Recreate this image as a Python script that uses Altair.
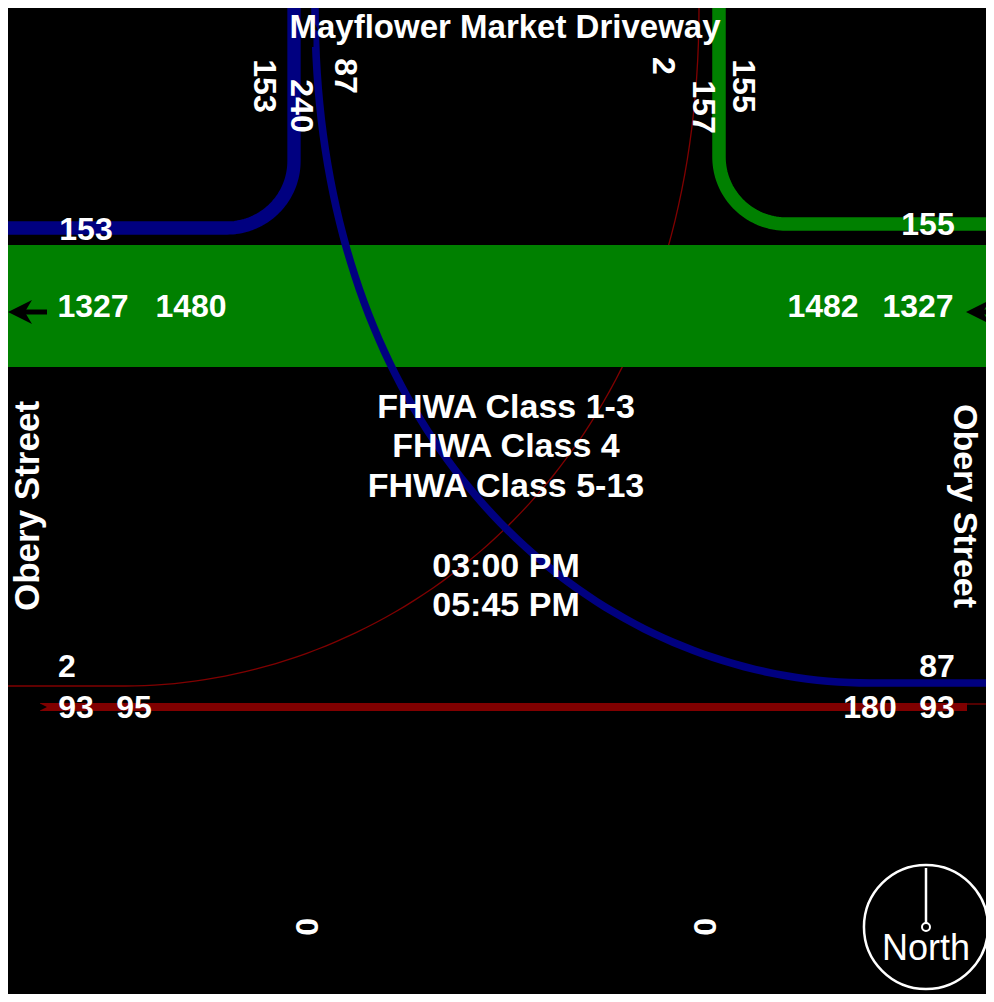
import altair as alt
import pandas as pd
import numpy as np

# ---------------- values ----------------
street_ns = "Mayflower Market Driveway"
street_ew = "Obery Street"
class_lines = ["FHWA Class 1-3", "FHWA Class 4", "FHWA Class 5-13"]
time_lines = ["03:00 PM", "05:45 PM"]

north_left_labels = [153, 240, 87]
north_right_labels = [2, 157, 155]
west_upper_label = [153]
east_upper_label = [155]
band_west_labels = [1327, 1480]
band_east_labels = [1482, 1327]
west_lower_top = [2]
west_lower_labels = [93, 95]
east_lower_top = [87]
east_lower_labels = [180, 93]
south_labels = [0, 0]

# flows: name, volume, colour
flow_names = ["drive_to_west", "drive_to_east", "east_to_drive", "west_to_drive", "eb_through", "wb_through"]
flow_volumes = [153, 87, 155, 2, 93, 1327]
flow_colors = ["#000080", "#000080", "#008000", "#800000", "#800000", "#008000"]

# ---------------- layout (pixel geometry of the diagram) ----------------
W, H = 978, 986
X0, X1 = 8, 8 + W
Y0, Y1 = 8, 8 + H
XE = 994  # drawing extent (clipped at the chart edge)
K = 0.087  # px per vehicle for flow line widths
FONT = "Liberation Sans"
NUM = 32

xs = alt.Scale(domain=[X0, X1], nice=False, zero=False)
ys = alt.Scale(domain=[Y0, Y1], reverse=True, nice=False, zero=False)
X = lambda f="x": alt.X(f"{f}:Q", scale=xs, axis=None)
Y = lambda f="y": alt.Y(f"{f}:Q", scale=ys, axis=None)


def arc(cx, cy, r, sx, sy, n=40):
    t = np.linspace(0, np.pi / 2, n)
    return list(zip(cx + sx * r * np.cos(t), cy + sy * r * np.sin(t)))


def bez(p0, p1, p2, p3, n=80):
    t = np.linspace(0, 1, n)[:, None]
    P = [np.array(p) for p in (p0, p1, p2, p3)]
    pts = (1 - t) ** 3 * P[0] + 3 * (1 - t) ** 2 * t * P[1] + 3 * (1 - t) * t ** 2 * P[2] + t ** 3 * P[3]
    return [tuple(p) for p in pts]


paths = {
    "drive_to_west": [(294, Y0), (294, 161)] + arc(227, 161, 67, 1, 1) + [(X0, 228)],
    "east_to_drive": [(719, Y0), (719, 157)] + arc(786, 157, 67, -1, 1) + [(XE, 224)],
    "drive_to_east": bez((315, Y0), (315, 8 + 0.65 * 675), (870 - 0.5 * 555, 683), (870, 683)) + [(XE, 683)],
    "west_to_drive": bez((699, Y0), (699, 8 + 0.7 * 678), (125 + 0.45 * 574, 686), (125, 686)) + [(X0, 686)],
    "eb_through": [(40, 707), (967, 707)],
}


def line_layer(name):
    i = flow_names.index(name)
    pts = paths[name]
    df = pd.DataFrame({"x": [p[0] for p in pts], "y": [p[1] for p in pts], "i": range(len(pts))})
    w = max(1.3, flow_volumes[i] * K)
    return alt.Chart(df).mark_line(color=flow_colors[i], strokeWidth=w, strokeCap="butt",
                                   strokeJoin="round", clip=False).encode(x=X(), y=Y(), order="i:Q")


# westbound through band
band = alt.Chart(pd.DataFrame({"x": [X0], "x2": [XE], "y": [245], "y2": [367]})).mark_rect(
    color=flow_colors[flow_names.index("wb_through")], clip=False).encode(x=X(), x2="x2", y=Y(), y2="y2")

eb_tail = alt.Chart(pd.DataFrame({"x": [967, 986], "y": [704, 704], "i": [0, 1]})).mark_line(
    color="#800000", strokeWidth=1.3).encode(x=X(), y=Y(), order="i:Q")

# arrows
ARROW_L = "M -1 0 L 1 -1 L 0.4 0 L 1 1 Z"
ARROW_R = "M 1 0 L -1 -1 L -0.4 0 L -1 1 Z"
ARROW_U = "M 0 -1 L 1 1 L 0 0.4 L -1 1 Z"
shafts = alt.Chart(pd.DataFrame({
    "x": [18, 976, X0, 312], "x2": [47, XE, 42, 312],
    "y": [312, 312, 707, 30], "y2": [312, 312, 707, 47], "w": [5, 5, 4, 3]
})).mark_rule(color="black", clip=False).encode(x=X(), x2="x2", y=Y(), y2="y2",
                                                strokeWidth=alt.StrokeWidth("w:Q", scale=None))
heads_l = alt.Chart(pd.DataFrame({"x": [20, 978], "y": [312, 312]})).mark_point(
    shape=ARROW_L, filled=True, color="black", opacity=1, size=576).encode(x=X(), y=Y())
head_r = alt.Chart(pd.DataFrame({"x": [41], "y": [707]})).mark_point(
    shape=ARROW_R, filled=True, color="black", opacity=1, size=144).encode(x=X(), y=Y())
head_u = alt.Chart(pd.DataFrame({"x": [312], "y": [25]})).mark_point(
    shape=ARROW_U, filled=True, color="black", opacity=1, size=196).encode(x=X(), y=Y())


def texts(df, size, angle=0, weight="bold"):
    return alt.Chart(df).mark_text(font=FONT, fontSize=size, fontWeight=weight, color="white",
                                   align="center", baseline="middle", angle=angle).encode(
        x=X(), y=Y(), text="t:N")


h_nums = pd.DataFrame({
    "t": [str(v) for v in west_upper_label + east_upper_label + band_west_labels + band_east_labels
          + west_lower_top + west_lower_labels + east_lower_top + east_lower_labels],
    "x": [86, 928, 93, 191, 823, 918, 67, 76, 134, 937, 870, 937],
    "y": [230, 225, 307, 307, 307, 307, 667, 708, 708, 667, 708, 708],
})
v_nums = pd.DataFrame({
    "t": [str(v) for v in north_left_labels + north_right_labels + south_labels],
    "x": [264, 301, 345, 663, 703, 743, 306, 704],
    "y": [86, 106, 76, 66, 107, 86, 927, 927],
})
title = pd.DataFrame({"t": [street_ns], "x": [505], "y": [28]})
center = pd.DataFrame({"t": class_lines + time_lines, "x": [506] * 5, "y": [408, 447, 487, 567, 606]})
obery_l = pd.DataFrame({"t": [street_ew], "x": [28], "y": [506]})
obery_r = pd.DataFrame({"t": [street_ew], "x": [964], "y": [506]})

# compass
compass_ring = alt.Chart(pd.DataFrame({"x": [926], "y": [927]})).mark_point(
    shape="circle", size=15394, filled=False, color="white", strokeWidth=2.5, opacity=1).encode(x=X(), y=Y())
compass_needle = alt.Chart(pd.DataFrame({"x": [926], "y": [868], "y2": [923]})).mark_rule(
    color="white", strokeWidth=2.5).encode(x=X(), y=Y(), y2="y2")
compass_hub = alt.Chart(pd.DataFrame({"x": [926], "y": [927]})).mark_point(
    shape="circle", size=64, filled=True, fill="black", stroke="white", strokeWidth=2, opacity=1).encode(x=X(), y=Y())
north = texts(pd.DataFrame({"t": ["North"], "x": [926], "y": [949]}), 36, weight="normal")

chart = alt.layer(
    line_layer("west_to_drive"),
    band,
    line_layer("drive_to_west"),
    line_layer("drive_to_east"),
    line_layer("east_to_drive"),
    line_layer("eb_through"),
    eb_tail,
    shafts, heads_l, head_r, head_u,
    texts(title, 33),
    texts(center, 34),
    texts(h_nums, NUM),
    texts(v_nums, NUM, angle=90),
    texts(obery_l, 35, angle=270),
    texts(obery_r, 34, angle=90),
    compass_ring, compass_needle, compass_hub, north,
).properties(
    width=W, height=H, padding=0, autosize=alt.AutoSizeParams(type="none"), background="black"
).configure_view(strokeWidth=0)

chart.save("out.html", embed_options={"renderer": "svg", "actions": False})
